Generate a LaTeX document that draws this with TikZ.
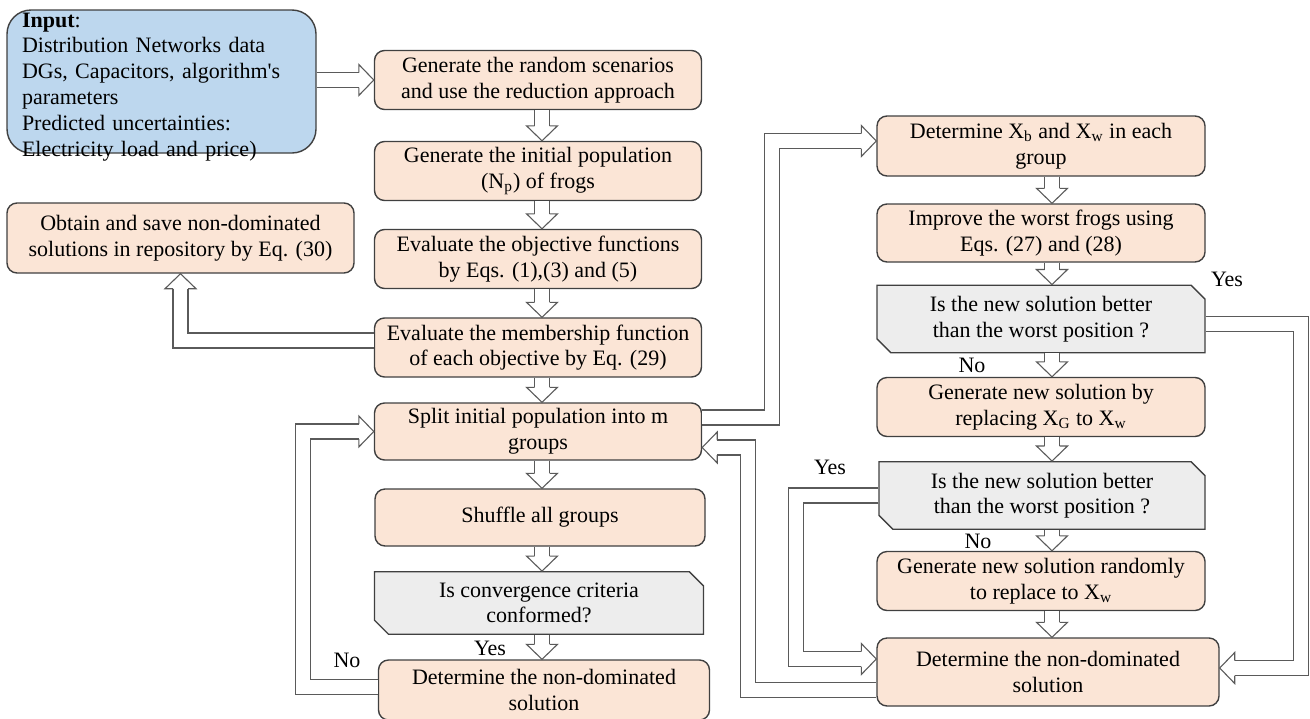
\documentclass[tikz,border=0pt]{standalone}
\usepackage{fontspec}
\setmainfont{Liberation Serif}
\usetikzlibrary{arrows.meta,shapes.misc}
\definecolor{sflPeach}{HTML}{FBE5D6}
\definecolor{sflBlue}{HTML}{BDD7EE}
\definecolor{sflGrey}{HTML}{EDEDED}
\definecolor{sflEdge}{HTML}{404040}
\definecolor{sflArrow}{HTML}{5A5A5A}
% open block-arrow head that sits on a double shaft
\pgfdeclarearrow{
  name = Hollow,
  parameters = {\the\pgfarrowlength,\the\pgfarrowwidth},
  setup code = {
    \pgfarrowssettipend{0pt}
    \pgfarrowssetlineend{-\pgfarrowlength}
    \pgfarrowssavethe\pgfarrowlength
    \pgfarrowssavethe\pgfarrowwidth
  },
  drawing code = {
    \pgfsetlinewidth{0.55pt}
    \pgfsetmiterjoin
    \pgfpathmoveto{\pgfqpoint{-\pgfarrowlength}{3.75pt}}
    \pgfpathlineto{\pgfqpoint{-\pgfarrowlength}{.5\pgfarrowwidth}}
    \pgfpathlineto{\pgfqpoint{0pt}{0pt}}
    \pgfpathlineto{\pgfqpoint{-\pgfarrowlength}{-.5\pgfarrowwidth}}
    \pgfpathlineto{\pgfqpoint{-\pgfarrowlength}{-3.75pt}}
    \pgfusepathqstroke
  },
  defaults = {length=7.5pt, width=15.5pt}
}
\tikzset{
  sfl box/.style={rectangle, rounded corners=5pt, draw=sflEdge, fill=sflPeach, line width=0.7pt, align=center, inner sep=2pt, minimum width=163.5pt, minimum height=29.5pt},
  sfl test/.style={chamfered rectangle, chamfered rectangle corners={north east,south west}, chamfered rectangle xsep=3.5pt, chamfered rectangle ysep=3.5pt, draw=sflEdge, fill=sflGrey, line width=0.7pt, align=center, inner sep=2pt, minimum width=164pt, minimum height=31pt},
  sfl input/.style={rectangle, rounded corners=12pt, draw=sflEdge, fill=sflBlue, line width=0.7pt, align=left, text width=139.5pt, inner xsep=7.5pt, inner ysep=0pt, text height=8.5pt, text depth=63pt, minimum height=71.5pt, font=\fontsize{11pt}{12.9pt}\selectfont},
  sfl flow/.style={draw=sflArrow, line width=0.55pt, double=white, double distance=6.95pt, -{Hollow}},
  sfl label/.style={inner sep=1pt},
}
\begin{document}
\begin{tikzpicture}[x=0.5pt,y=-0.5pt,font=\fontsize{11pt}{12.8pt}\selectfont]
  \useasboundingbox (0,0) rectangle (1310,718);
  % input data and repository
  \node[sfl input] (input) at (161.5,81.5) {\textbf{Input}:\\Distribution Networks data\\DGs, Capacitors, algorithm\textquotesingle s\\parameters\\Predicted uncertainties:\\Electricity load and price)};
  \node[sfl box, minimum width=173.5pt, minimum height=35pt] (obtain) at (180.5,238) {Obtain and save non-dominated\\solutions in repository by Eq. (30)};
  % main column
  \node[sfl box] (gen) at (538,80) {Generate the random scenarios\\and use the reduction approach};
  \node[sfl box] (pop) at (538,171) {Generate the initial population\\(N\textsubscript{p}) of frogs};
  \node[sfl box] (obj) at (538,259) {Evaluate the objective functions\\by Eqs. (1),(3) and (5)};
  \node[sfl box] (memb) at (538,347.5) {Evaluate the membership function\\of each objective by Eq. (29)};
  \node[sfl box, minimum height=28.5pt] (split) at (538,431.5) {Split initial population into m\\groups};
  \node[sfl box, minimum width=165pt, minimum height=28.5pt] (shuffle) at (540,517.5) {Shuffle all groups};
  \node[sfl test, minimum width=164.5pt, minimum height=30.5pt] (conv) at (539,603) {Is convergence criteria\\conformed?};
  \node[sfl box, minimum width=165.5pt, minimum height=30pt] (detL) at (544,690) {Determine the non-dominated\\solution};
  % frog leaping column
  \node[sfl box, minimum width=164pt, minimum height=30pt] (xb) at (1041,146) {Determine X\textsubscript{b} and X\textsubscript{w} in each\\group};
  \node[sfl box, minimum width=164pt, minimum height=29pt] (improve) at (1041,233) {Improve the worst frogs using\\Eqs. (27) and (28)};
  \node[sfl test] (better1) at (1041,319) {Is the new solution better\\than the worst position ?};
  \node[sfl box, minimum width=164pt] (replace) at (1041,407) {Generate new solution by\\replacing X\textsubscript{G} to X\textsubscript{w}};
  \node[sfl test, minimum width=163pt, minimum height=31.5pt] (better2) at (1042,495.5) {Is the new solution better\\than the worst position ?};
  \node[sfl box, minimum width=164pt] (random) at (1041,581) {Generate new solution randomly\\to replace to X\textsubscript{w}};
  \node[sfl box, minimum width=171pt, minimum height=34pt] (detR) at (1048,672) {Determine the non-dominated\\solution};
  % branch labels
  \node[sfl label] (yesA) at (1227,279) {Yes};
  \node[sfl label] (noA) at (972,365) {No};
  \node[sfl label] (yesB) at (830,467) {Yes};
  \node[sfl label] (noB) at (978,541) {No};
  \node[sfl label] (yesC) at (490,648) {Yes};
  \node[sfl label] (noC) at (347,660) {No};
  % straight flow
  \coordinate (lcol) at (542,0);
  \coordinate (rcol) at (1052,0);
  \draw[sfl flow] (input.east |- gen.west) -- (gen.west);
  \foreach \a/\b in {gen/pop,pop/obj,obj/memb,memb/split,split/shuffle,shuffle/conv,conv/detL}
    \draw[sfl flow] (\a.south -| lcol) -- (\b.north -| lcol);
  \foreach \a/\b in {xb/improve,improve/better1,better1/replace,replace/better2,better2/random,random/detR}
    \draw[sfl flow] (\a.south -| rcol) -- (\b.north -| rcol);
  % side branches and loops
  \draw[sfl flow] ([yshift=3.5pt]memb.west) -| (obtain.south);
  \draw[sfl flow] ([yshift=7pt]split.east) -- ++(70,0) |- ([yshift=2.5pt]xb.west);
  \draw[sfl flow] ([yshift=-2.5pt]better1.east) -- ++(95,0) |- ([yshift=2pt]detR.east);
  \draw[sfl flow] (better2.west) -- ++(-82,0) |- ([yshift=6.5pt]detR.west);
  \draw[sfl flow] ([yshift=-9pt]detR.west) -- ++(-128,0) |- ([yshift=-8pt]split.east);
  \draw[sfl flow] ([yshift=1.5pt]detL.west) -- ++(-75,0) |- (split.west);
\end{tikzpicture}
\end{document}
